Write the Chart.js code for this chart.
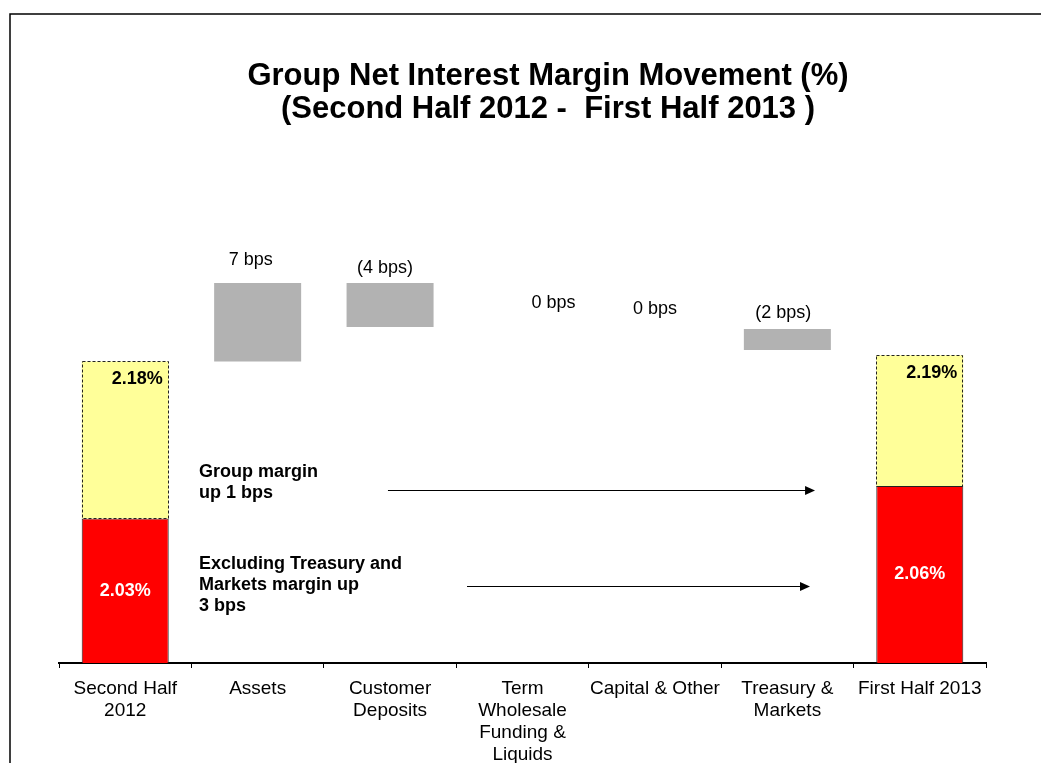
<!DOCTYPE html>
<html>
<head>
<meta charset="utf-8">
<script src="https://cdn.jsdelivr.net/npm/chart.js@4.4.1/dist/chart.umd.min.js"></script>
<style>
  html, body { margin: 0; padding: 0; background: #fff; }
  canvas { display: block; }
</style>
</head>
<body>
<canvas id="c" width="1041" height="763"></canvas>
<script>
// ---------------- DATA ----------------
const categories = [
  ['Second Half', '2012'],
  ['Assets'],
  ['Customer', 'Deposits'],
  ['Term', 'Wholesale', 'Funding &', 'Liquids'],
  ['Capital & Other'],
  ['Treasury &', 'Markets'],
  ['First Half 2013']
];
const axisMin = 1.89;
const axisMax = 2.40;
// NIM excluding Treasury & Markets (red)
const exTreasuryNim = [2.028, null, null, null, null, null, 2.059];
// Group NIM (yellow top)
const groupNim = [2.178, null, null, null, null, null, 2.184];
// Movement bars (grey floating) start / end
const moveStart = [null, 2.178, 2.253, 2.211, 2.211, 2.209, null];
const moveEnd   = [null, 2.253, 2.211, 2.211, 2.211, 2.189, null];
const moveLabels = ['', '7 bps', '(4 bps)', '0 bps', '0 bps', '(2 bps)', ''];
const groupLabels = ['2.18%', '', '', '', '', '', '2.19%'];
const exTreasuryLabels = ['2.03%', '', '', '', '', '', '2.06%'];
const titleLines = ['Group Net Interest Margin Movement (%)', '(Second Half 2012 -  First Half 2013 )'];
const noteGroup = ['Group margin', 'up 1 bps'];
const noteEx = ['Excluding Treasury and', 'Markets margin up', '3 bps'];

// --------------- LAYOUT (not data) ---------------
const FONT = '"Liberation Sans", Arial, Helvetica, sans-serif';
// label offsets (px) for movement labels: [dx, dy above anchor]
const moveLabelOffsets = [null, [-7, 23], [-5, 15], [31, 24], [0, 18], [-4, 16], null];

// --------------- BUILD ---------------
const redData = exTreasuryNim.map(v => v == null ? null : [axisMin, v]);
const yellowData = groupNim.map((v, i) => v == null ? null : [exTreasuryNim[i], v]);
const greyData = moveStart.map((s, i) => (s == null || s === moveEnd[i]) ? null : [Math.min(s, moveEnd[i]), Math.max(s, moveEnd[i])]);

const overlay = {
  id: 'overlay',
  afterDraw(chart) {
    const ctx = chart.ctx;
    const xs = chart.scales.x, ys = chart.scales.y;
    ctx.save();
    // frame
    ctx.strokeStyle = '#000';
    ctx.lineWidth = 1.5;
    ctx.beginPath();
    ctx.moveTo(10, 763);
    ctx.lineTo(10, 14);
    ctx.lineTo(1041, 14);
    ctx.stroke();

    // title
    ctx.fillStyle = '#000';
    ctx.font = 'bold 31px ' + FONT;
    ctx.textAlign = 'center';
    ctx.textBaseline = 'middle';
    ctx.fillText(titleLines[0], 548, 76);
    ctx.fillText(titleLines[1], 548, 109);

    // yellow dashed borders + labels
    const yMeta = chart.getDatasetMeta(1);
    yMeta.data.forEach((bar, i) => {
      if (groupNim[i] == null) return;
      const p = bar.getProps(['x', 'y', 'base', 'width'], true);
      const left = p.x - p.width / 2, right = p.x + p.width / 2;
      ctx.setLineDash([3, 2]);
      ctx.strokeStyle = '#222';
      ctx.lineWidth = 1;
      ctx.strokeRect(Math.round(left) + 0.5, Math.round(p.y) + 0.5, Math.round(p.width) - 1, Math.round(p.base - p.y));
      ctx.setLineDash([]);
      ctx.fillStyle = '#000';
      ctx.font = 'bold 18px ' + FONT;
      ctx.textAlign = 'right';
      ctx.textBaseline = 'middle';
      ctx.fillText(groupLabels[i], right - 6, p.y + 18);
    });

    // red labels
    const rMeta = chart.getDatasetMeta(0);
    rMeta.data.forEach((bar, i) => {
      if (exTreasuryNim[i] == null) return;
      const p = bar.getProps(['x', 'y', 'base'], true);
      ctx.fillStyle = '#fff';
      ctx.font = 'bold 18px ' + FONT;
      ctx.textAlign = 'center';
      ctx.textBaseline = 'middle';
      ctx.fillText(exTreasuryLabels[i], p.x, (p.y + p.base) / 2);
    });

    // movement labels
    ctx.fillStyle = '#000';
    ctx.font = '18px ' + FONT;
    ctx.textAlign = 'center';
    ctx.textBaseline = 'middle';
    moveLabels.forEach((t, i) => {
      if (!t) return;
      const top = ys.getPixelForValue(Math.max(moveStart[i], moveEnd[i]));
      const off = moveLabelOffsets[i];
      ctx.fillText(t, xs.getPixelForValue(i) + off[0], top - off[1]);
    });

    // notes
    ctx.font = 'bold 18px ' + FONT;
    ctx.textAlign = 'left';
    const nx = xs.getPixelForValue(0.557);
    let ny = ys.getPixelForValue(2.0724);
    noteGroup.forEach((t, k) => ctx.fillText(t, nx, ny + k * 21));
    ny = ys.getPixelForValue(1.9846);
    noteEx.forEach((t, k) => ctx.fillText(t, nx, ny + k * 21));

    // arrows
    function arrow(x0, x1, yv) {
      const a = xs.getPixelForValue(x0), b = xs.getPixelForValue(x1), y = Math.round(ys.getPixelForValue(yv)) + 0.5;
      ctx.strokeStyle = '#000';
      ctx.lineWidth = 1.2;
      ctx.beginPath();
      ctx.moveTo(a, y);
      ctx.lineTo(b - 8, y);
      ctx.stroke();
      ctx.fillStyle = '#000';
      ctx.beginPath();
      ctx.moveTo(b, y);
      ctx.lineTo(b - 10, y - 4.5);
      ctx.lineTo(b - 10, y + 4.5);
      ctx.closePath();
      ctx.fill();
    }
    arrow(1.984, 5.209, 2.055);
    arrow(2.581, 5.171, 1.9635);
    ctx.restore();
  }
};

new Chart(document.getElementById('c'), {
  type: 'bar',
  data: {
    labels: categories,
    datasets: [
      { data: redData, backgroundColor: '#ff0000', borderColor: '#222', borderWidth: 1, grouped: false, order: 2 },
      { data: yellowData, backgroundColor: '#ffff99', borderWidth: 0, grouped: false, order: 1 },
      { data: greyData, backgroundColor: '#b2b2b2', borderWidth: 0, grouped: false, order: 3 }
    ]
  },
  options: {
    responsive: false,
    animation: false,
    events: [],
    barPercentage: 0.657,
    categoryPercentage: 1,
    layout: { padding: { left: 59, right: 55, top: 129, bottom: -13 } },
    plugins: { legend: { display: false }, tooltip: { enabled: false }, title: { display: false } },
    scales: {
      x: {
        offset: true,
        grid: { offset: true, drawOnChartArea: false, drawTicks: true, tickLength: 5, color: '#000', lineWidth: 1 },
        border: { display: true, color: '#000', width: 2 },
        ticks: {
          color: '#000',
          padding: 10,
          maxRotation: 0,
          autoSkip: false,
          font: { family: FONT, size: 19, lineHeight: 22 / 19 }
        }
      },
      y: {
        display: false,
        min: axisMin,
        max: axisMax
      }
    }
  },
  plugins: [overlay]
});
</script>
</body>
</html>
